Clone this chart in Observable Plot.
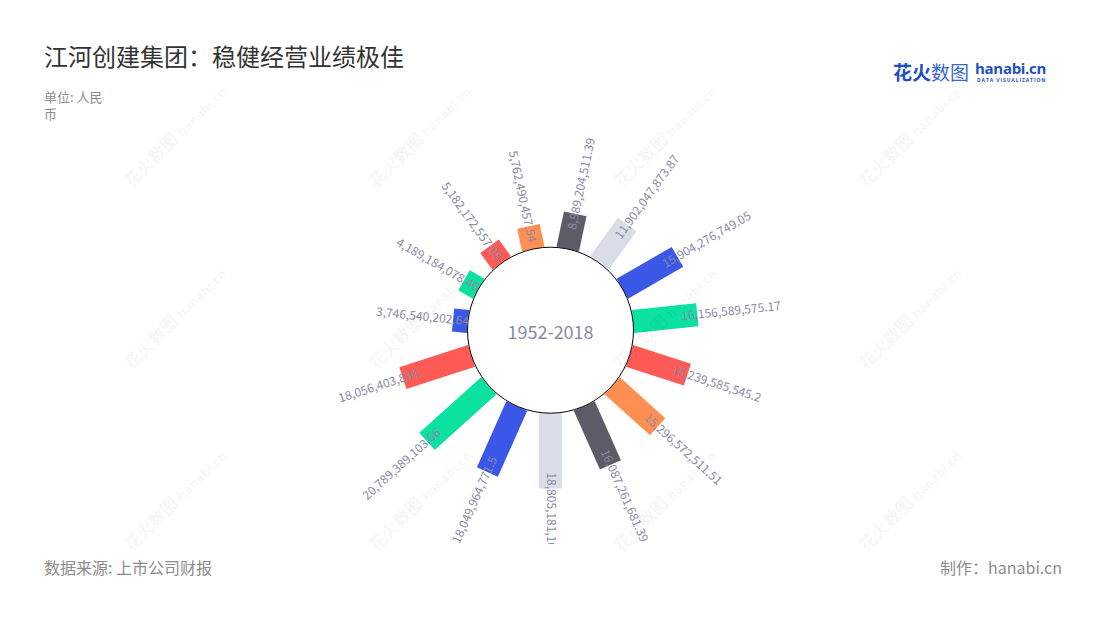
<!DOCTYPE html>
<html><head><meta charset="utf-8">
<script src="https://cdn.jsdelivr.net/npm/d3@7"></script>
<script src="https://cdn.jsdelivr.net/npm/@observablehq/plot@0.6"></script>
<style>
body{margin:0;background:#fff;font-family:"Noto Sans CJK SC","Noto Sans",sans-serif;}
#wrap{position:relative;width:1100px;height:620px;overflow:hidden;background:#fff;}
#title{position:absolute;left:44px;top:44px;font-size:24px;line-height:24px;color:#333;white-space:nowrap;}
#unit{position:absolute;left:44px;top:88px;width:68px;font-size:13px;line-height:17px;color:#8c8c8c;}
#chart{position:absolute;left:0;top:125px;width:1100px;height:419px;}
#chart svg{overflow:hidden;}
#source{position:absolute;left:44px;top:555px;font-size:16px;line-height:24px;color:#8c8c8c;white-space:nowrap;}
#credit{position:absolute;right:38px;top:555px;font-size:16px;line-height:24px;color:#8c8c8c;white-space:nowrap;}
#logo{position:absolute;left:893px;top:58px;height:30px;color:#1f4fc2;}
#logo .cn{position:absolute;left:0;top:2px;font-size:19px;line-height:24px;font-weight:700;white-space:nowrap;}
#logo .cn span{font-weight:400;color:#3a63d4;}
#logo .en{position:absolute;left:82px;top:3px;font-size:15px;line-height:15px;font-weight:700;white-space:nowrap;font-family:"Open Sans",sans-serif;letter-spacing:-0.3px;}
#logo .dv{position:absolute;left:84px;top:19px;font-size:5px;line-height:6px;font-weight:700;white-space:nowrap;letter-spacing:0.9px;font-family:"Open Sans",sans-serif;}
.wm{position:absolute;width:160px;height:24px;margin-left:-80px;margin-top:-12px;transform:rotate(-45deg);color:rgba(0,0,0,0.055);white-space:nowrap;pointer-events:none;font-weight:700;}
.wm .a{font-size:17px;line-height:24px;}
.wm .b{font-size:13px;font-family:"Open Sans",sans-serif;margin-left:4px;}
</style></head><body>
<div id="wrap">
  <div id="title">江河创建集团：稳健经营业绩极佳</div>
  <div id="unit">单位: 人民币</div>
  <div id="logo"><div class="cn">花火<span>数图</span></div><div class="en">hanabi.cn</div><div class="dv">DATA VISUALIZATION</div></div>
  <div id="chart"></div>
  <div id="source">数据来源: 上市公司财报</div>
  <div id="credit">制作：hanabi.cn</div>
</div>
<script>
// values in drawing order (clockwise, starting with the short blue bar at the left)
const values = [3746540202.64, 4189184078.46, 5182172557.05, 5762490457.54, 8989204511.39,
  11902047873.87, 15904276749.05, 16156589575.17, 15239585545.2, 15296572511.51,
  16087261681.39, 18805181160, 18049964771.5, 20789389103.66, 18056403834];
const palette = ["#3a57e8", "#0be2a1", "#ff5b56", "#ff9052", "#5b5c68", "#d9dde8"];
const centerLabel = ["1952-2018"];

const startAngle = 276, step = 360 / values.length;
const innerR = 83;
const rs = d3.scaleLinear().domain([0, 25e9]).range([innerR, innerR + 100]);
const rad = a => a * Math.PI / 180;

const data = values.map((v, i) => {
  const a = (startAngle + step * i) % 360;
  return {v, a, color: palette[i % palette.length],
    label: v.toLocaleString("en-US", {maximumFractionDigits: 2})};
});
const px = (r, a) => r * Math.sin(rad(a));
const py = (r, a) => r * Math.cos(rad(a));
const labR = d => rs(d.v) - 16;
const right = data.filter(d => d.a <= 180);
const left = data.filter(d => d.a > 180);
const textFill = "#8a8aa3";

const chart = Plot.plot({
  width: 1100, height: 419, margin: 0,
  x: {domain: [-550, 550], axis: null},
  y: {domain: [-214.3, 204.7], axis: null},
  color: {type: "identity"},
  style: {background: "transparent", fontFamily: "'Noto Sans CJK SC', sans-serif"},
  marks: [
    Plot.link(data, {
      x1: d => px(rs(0), d.a), y1: d => py(rs(0), d.a),
      x2: d => px(rs(d.v), d.a), y2: d => py(rs(d.v), d.a),
      stroke: "color", strokeWidth: 23, strokeLinecap: "butt"
    }),
    Plot.dot([{x: 0, y: 0}], {x: "x", y: "y", r: innerR, fill: "white", stroke: "black", strokeWidth: 1}),
    Plot.text(centerLabel, {x: () => 0, y: () => 0, text: d => d, fontSize: 18, fill: textFill, dy: 3}),
    Plot.text(right, {
      x: d => px(labR(d), d.a), y: d => py(labR(d), d.a), text: "label",
      rotate: d => d.a - 90, textAnchor: "start", lineAnchor: "middle", fontSize: 12, fill: textFill
    }),
    Plot.text(left, {
      x: d => px(labR(d), d.a), y: d => py(labR(d), d.a), text: "label",
      rotate: d => d.a - 270, textAnchor: "end", lineAnchor: "middle", fontSize: 12, fill: textFill
    })
  ]
});
document.getElementById("chart").appendChild(chart);

// faint watermark tiles
const wrap = document.getElementById("wrap");
for (let i = 0; i < 4; i++) for (let j = 0; j < 3; j++) {
  const el = document.createElement("div");
  el.className = "wm";
  el.style.left = (183 + 245 * i) + "px";
  el.style.top = (127 + 182 * j) + "px";
  el.innerHTML = '<span class="a">花火数图</span><span class="b">hanabi.cn</span>';
  wrap.appendChild(el);
}
</script>
</body></html>
